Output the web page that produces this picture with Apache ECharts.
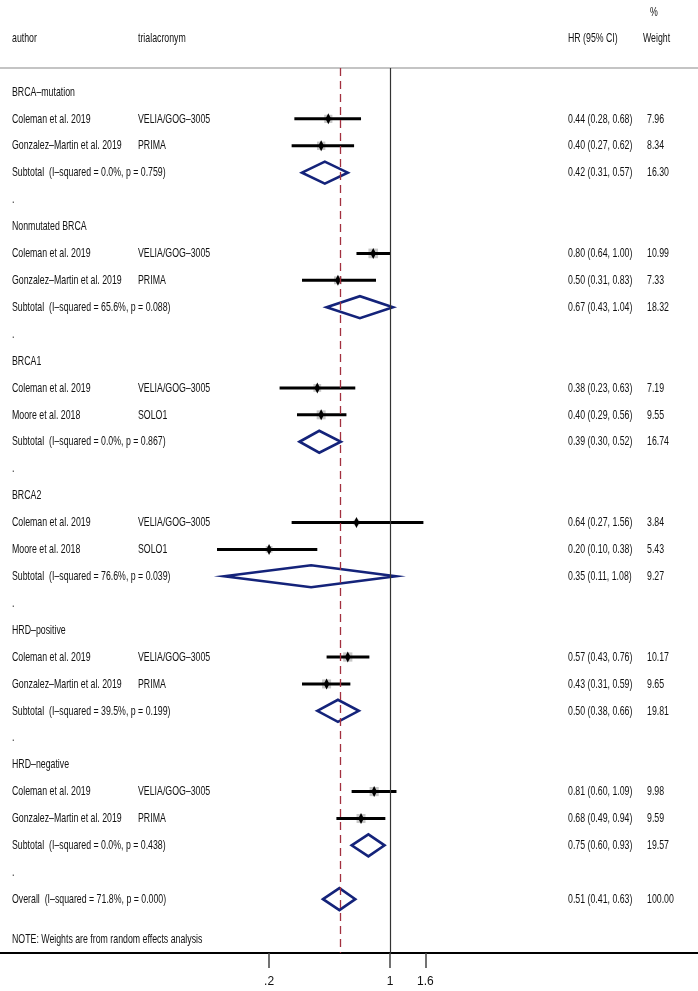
<!DOCTYPE html>
<html>
<head>
<meta charset="utf-8">
<script src="https://cdn.jsdelivr.net/npm/echarts@6/dist/echarts.min.js"></script>
<style>html,body{margin:0;padding:0;background:#fff}#c{width:698px;height:991px}</style>
</head>
<body>
<div id="c"></div>
<script>
// ---------- data ----------
const groupNames = ['BRCA–mutation', 'Nonmutated BRCA', 'BRCA1', 'BRCA2', 'HRD–positive', 'HRD–negative'];
const studyAuthors = [
  'Coleman et al. 2019', 'Gonzalez–Martin et al. 2019',
  'Coleman et al. 2019', 'Gonzalez–Martin et al. 2019',
  'Coleman et al. 2019', 'Moore et al. 2018',
  'Coleman et al. 2019', 'Moore et al. 2018',
  'Coleman et al. 2019', 'Gonzalez–Martin et al. 2019',
  'Coleman et al. 2019', 'Gonzalez–Martin et al. 2019'
];
const studyTrials = [
  'VELIA/GOG–3005', 'PRIMA', 'VELIA/GOG–3005', 'PRIMA', 'VELIA/GOG–3005', 'SOLO1',
  'VELIA/GOG–3005', 'SOLO1', 'VELIA/GOG–3005', 'PRIMA', 'VELIA/GOG–3005', 'PRIMA'
];
const studyHR = [0.44, 0.40, 0.80, 0.50, 0.38, 0.40, 0.64, 0.20, 0.57, 0.43, 0.81, 0.68];
const studyLo = [0.28, 0.27, 0.64, 0.31, 0.23, 0.29, 0.27, 0.10, 0.43, 0.31, 0.60, 0.49];
const studyHi = [0.68, 0.62, 1.00, 0.83, 0.63, 0.56, 1.56, 0.38, 0.76, 0.59, 1.09, 0.94];
const studyWeight = [7.96, 8.34, 10.99, 7.33, 7.19, 9.55, 3.84, 5.43, 10.17, 9.65, 9.98, 9.59];
const subHet = ['0.0%, p = 0.759', '65.6%, p = 0.088', '0.0%, p = 0.867', '76.6%, p = 0.039', '39.5%, p = 0.199', '0.0%, p = 0.438'];
const subHR = [0.42, 0.67, 0.39, 0.35, 0.50, 0.75];
const subLo = [0.31, 0.43, 0.30, 0.11, 0.38, 0.60];
const subHi = [0.57, 1.04, 0.52, 1.08, 0.66, 0.93];
const subWeight = [16.30, 18.32, 16.74, 9.27, 19.81, 19.57];
const overallHet = '71.8%, p = 0.000';
const overallHR = 0.51, overallLo = 0.41, overallHi = 0.63, overallWeight = 100.00;
const tickValues = [0.2, 1, 1.6];
const tickLabels = ['.2', '1', '1.6'];
const headers = { author: 'author', trial: 'trialacronym', hr: 'HR (95% CI)', weight: 'Weight', pct: '%' };
const noteText = 'NOTE: Weights are from random effects analysis';

// ---------- layout ----------
const COL_AUTHOR = 12, COL_TRIAL = 138, COL_HR = 568, COL_W = 647;
const FONT = 'Liberation Sans';
const TXT = '#111';
const L = Math.log10;
const f2 = v => v.toFixed(2);
const ciText = (h, lo, hi) => f2(h) + ' (' + f2(lo) + ', ' + f2(hi) + ')';

const textRows = [];
const studyData = [];
const diamondData = [];
textRows.push({ row: -2.0, cells: [[COL_AUTHOR, headers.author], [COL_TRIAL, headers.trial], [COL_HR, headers.hr], [COL_W - 4, headers.weight]] });
textRows.push({ row: -2.95, cells: [[COL_W + 3, headers.pct]] });
let s = 0;
groupNames.forEach((g, gi) => {
  const base = gi * 5;
  textRows.push({ row: base, cells: [[COL_AUTHOR, g]] });
  for (let k = 0; k < 2; k++, s++) {
    const r = base + 1 + k;
    textRows.push({ row: r, cells: [[COL_AUTHOR, studyAuthors[s]], [COL_TRIAL, studyTrials[s]],
      [COL_HR, ciText(studyHR[s], studyLo[s], studyHi[s])], [COL_W, f2(studyWeight[s])]] });
    studyData.push([r, L(studyHR[s]), L(studyLo[s]), L(studyHi[s]), studyWeight[s]]);
  }
  textRows.push({ row: base + 3, cells: [[COL_AUTHOR, 'Subtotal  (I–squared = ' + subHet[gi] + ')'],
    [COL_HR, ciText(subHR[gi], subLo[gi], subHi[gi])], [COL_W, f2(subWeight[gi])]] });
  diamondData.push([base + 3, L(subHR[gi]), L(subLo[gi]), L(subHi[gi])]);
  textRows.push({ row: base + 4, cells: [[COL_AUTHOR, '.']] });
});
textRows.push({ row: 30, cells: [[COL_AUTHOR, 'Overall  (I–squared = ' + overallHet + ')'],
  [COL_HR, ciText(overallHR, overallLo, overallHi)], [COL_W, f2(overallWeight)]] });
diamondData.push([30, L(overallHR), L(overallLo), L(overallHi)]);
textRows.push({ row: 31.5, cells: [[COL_AUTHOR, noteText]] });

const X0 = 390, PPD = 173, W = 698;
const xMin = -X0 / PPD, xMax = (W - X0) / PPD;
const yMin = -0.89, yMax = 32.0;

const chart = echarts.init(document.getElementById('c'), null, { renderer: 'canvas' });
const axisCommon = { type: 'value', min: xMin, max: xMax, splitLine: { show: false } };
chart.setOption({
  animation: false,
  backgroundColor: '#fff',
  grid: { left: 0, right: 0, top: 68, bottom: 38 },
  xAxis: [
    Object.assign({}, axisCommon, {
      position: 'bottom',
      axisLine: { show: true, onZero: false, lineStyle: { color: '#000', width: 2 } },
      axisTick: { show: true, customValues: tickValues.map(L), length: 15, lineStyle: { color: '#444', width: 1.5 } },
      axisLabel: { show: true, customValues: tickValues.map(L), margin: 23, fontSize: 12, color: TXT, fontFamily: FONT,
        formatter: v => { let bi = 0; tickValues.forEach((t, i) => { if (Math.abs(L(t) - v) < Math.abs(L(tickValues[bi]) - v)) bi = i; }); return tickLabels[bi]; } }
    }),
    Object.assign({}, axisCommon, {
      position: 'top',
      axisLine: { show: true, onZero: false, lineStyle: { color: '#c4c4c4', width: 2 } },
      axisTick: { show: false }, axisLabel: { show: false }
    })
  ],
  yAxis: { type: 'value', inverse: true, min: yMin, max: yMax, show: false },
  series: [
    {
      type: 'custom', name: 'refs', z: 1, data: [], renderItem: () => null,
      markLine: {
        silent: true, symbol: 'none', label: { show: false },
        data: [
          { xAxis: 0, lineStyle: { type: 'solid', color: '#333', width: 1.2 } },
          { xAxis: L(overallHR), lineStyle: { type: [8, 5], color: '#a3303f', width: 1.3 } }
        ]
      }
    },
    {
      type: 'custom', name: 'studies', z: 3, data: studyData,
      renderItem: (params, api) => {
        const r = api.value(0);
        const c = api.coord([api.value(1), r]);
        const lo = api.coord([api.value(2), r]);
        const hi = api.coord([api.value(3), r]);
        const side = 2.9 * Math.sqrt(api.value(4));
        return { type: 'group', children: [
          { type: 'rect', shape: { x: c[0] - side / 2, y: c[1] - side / 2, width: side, height: side }, style: { fill: '#c8c8c8' } },
          { type: 'line', shape: { x1: lo[0], y1: c[1], x2: hi[0], y2: c[1] }, style: { stroke: '#000', lineWidth: 3 } },
          { type: 'polygon', shape: { points: [[c[0], c[1] - 5.5], [c[0] + 2.8, c[1]], [c[0], c[1] + 5.5], [c[0] - 2.8, c[1]]] }, style: { fill: '#000' } }
        ] };
      }
    },
    {
      type: 'custom', name: 'pooled', z: 4, data: diamondData,
      renderItem: (params, api) => {
        const r = api.value(0);
        const c = api.coord([api.value(1), r]);
        const lo = api.coord([api.value(2), r]);
        const hi = api.coord([api.value(3), r]);
        const h = 11;
        return { type: 'polygon', shape: { points: [[lo[0], c[1]], [c[0], c[1] - h], [hi[0], c[1]], [c[0], c[1] + h]] },
          style: { fill: 'none', stroke: '#14237a', lineWidth: 2.6, lineJoin: 'miter' } };
      }
    },
    {
      type: 'custom', name: 'text', z: 5, data: textRows.map(t => [t.row]),
      renderItem: (params, api) => {
        const t = textRows[params.dataIndex];
        const y = api.coord([0, api.value(0)])[1];
        return { type: 'group', children: t.cells.map(([x, txt]) => ({
          type: 'text', x: x, y: y, scaleX: 0.65,
          style: { text: txt, fontFamily: FONT, fontSize: 13.5, fill: TXT, align: 'left', verticalAlign: 'middle' }
        })) };
      }
    }
  ]
});
</script>
</body>
</html>
